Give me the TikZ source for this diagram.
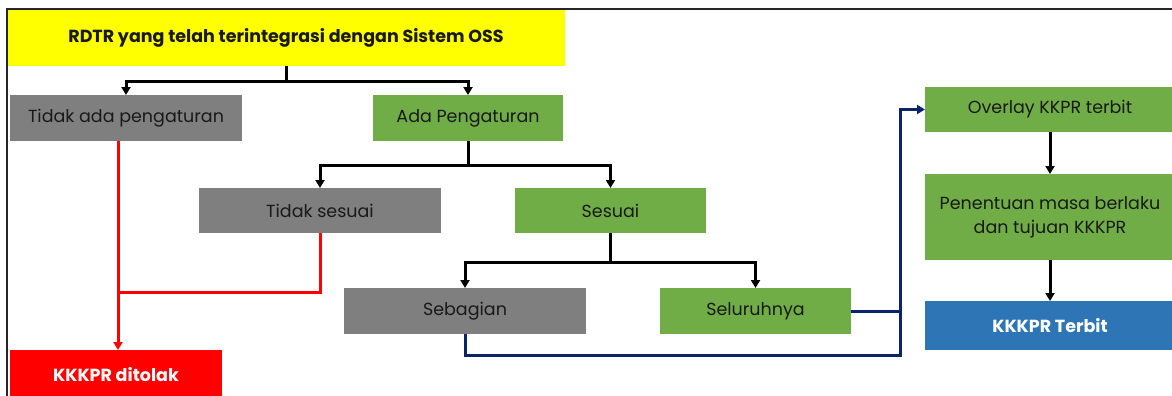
\documentclass[tikz,border=0pt]{standalone}
\usepackage{fontspec}
\setmainfont{Poppins}
\usetikzlibrary{arrows.meta,calc}
\definecolor{cyel}{HTML}{FFFF00}
\definecolor{cgray}{HTML}{7F7F7F}
\definecolor{cgreen}{HTML}{70AD47}
\definecolor{cred}{HTML}{FF0000}
\definecolor{cblue}{HTML}{2E75B6}
\definecolor{cnavy}{HTML}{0B2467}
\begin{document}
\begin{tikzpicture}[x=1pt,y=-1pt,
  bx/.style={inner sep=0pt, outer sep=0pt, anchor=center, align=center, font=\fontsize{17.5}{24}\selectfont, text=black!90},
  graybox/.style={bx, fill=cgray},
  greenbox/.style={bx, fill=cgreen},
  boldbox/.style={bx, font=\fontsize{17.5}{24}\selectfont\bfseries},
  blk/.style={draw=black, line width=3pt, -{Triangle[width=9pt,length=8pt]}},
  redln/.style={draw=cred, line width=3pt},
  navyln/.style={draw=cnavy, line width=3pt},
]
\useasboundingbox (0,0) rectangle (1172,396);
\fill[white] (0,0) rectangle (1172,396);

% boxes
\node[boldbox, fill=cyel, minimum width=558pt, minimum height=57pt] (top) at (286,37.5) {RDTR yang telah terintegrasi dengan Sistem OSS};
\node[graybox, minimum width=232pt, minimum height=46pt] (tap) at (126,118) {Tidak ada pengaturan};
\node[greenbox, minimum width=190pt, minimum height=46pt] (ap) at (468,118) {Ada Pengaturan};
\node[graybox, minimum width=242pt, minimum height=45pt] (ts) at (320,210.5) {Tidak sesuai};
\node[greenbox, minimum width=191pt, minimum height=45pt] (ses) at (610.5,210.5) {Sesuai};
\node[graybox, minimum width=242pt, minimum height=46pt] (seb) at (465,311) {Sebagian};
\node[greenbox, minimum width=191pt, minimum height=46pt] (sel) at (755.5,311) {Seluruhnya};
\node[boldbox, fill=cred, text=white, minimum width=212pt, minimum height=50pt] (tolak) at (116,375) {KKKPR ditolak};
\node[greenbox, minimum width=250pt, minimum height=45pt] (ov) at (1050,109.5) {Overlay KKPR terbit};
\node[greenbox, minimum width=250pt, minimum height=86pt] (pen) at (1050,217) {Penentuan masa berlaku\\dan tujuan KKKPR};
\node[boldbox, fill=cblue, text=white, minimum width=250pt, minimum height=49pt] (kt) at (1050,325.5) {KKKPR Terbit};

% black connectors
\coordinate (j1) at ($(top.south)+(0,15)$);
\draw[blk] (top.south) -- (j1) -| (tap.north);
\draw[blk] (j1) -| (ap.north);
\coordinate (j2) at ($(ap.south)+(0,24)$);
\draw[blk] (ap.south) -- (j2) -| (ts.north);
\draw[blk] (j2) -| (ses.north);
\coordinate (j3) at ($(ses.south)+(0,29)$);
\draw[blk] (ses.south) -- (j3) -| (seb.north);
\draw[blk] (j3) -| (sel.north);
\draw[blk] (ov.south) -- (pen.north);
\draw[blk] (pen.south) -- (kt.north);

% red connectors
\coordinate (r0) at ($(tolak.north)+(2,0)$);
\draw[redln, -{Triangle[width=9pt,length=8pt]}] (tap.south -| r0) -- (r0);
\coordinate (rj) at ($(r0)+(0,-58)$);
\draw[redln] (ts.south) |- (rj);

% navy connectors
\coordinate (nv) at ($(ov.west)+(-25,0)$);
\coordinate (nb) at ($(seb.south)+(0,21)$);
\draw[navyln, -{Triangle[width=9pt,length=8pt]}] (seb.south) -- (nb) -| (nv) -- (ov.west);
\draw[navyln] (sel.east) -- (sel.east -| nv);

% frame
\draw[line width=2.2pt, black!85] (7,396) -- (7,9) -- (1172,9);
\end{tikzpicture}
\end{document}
